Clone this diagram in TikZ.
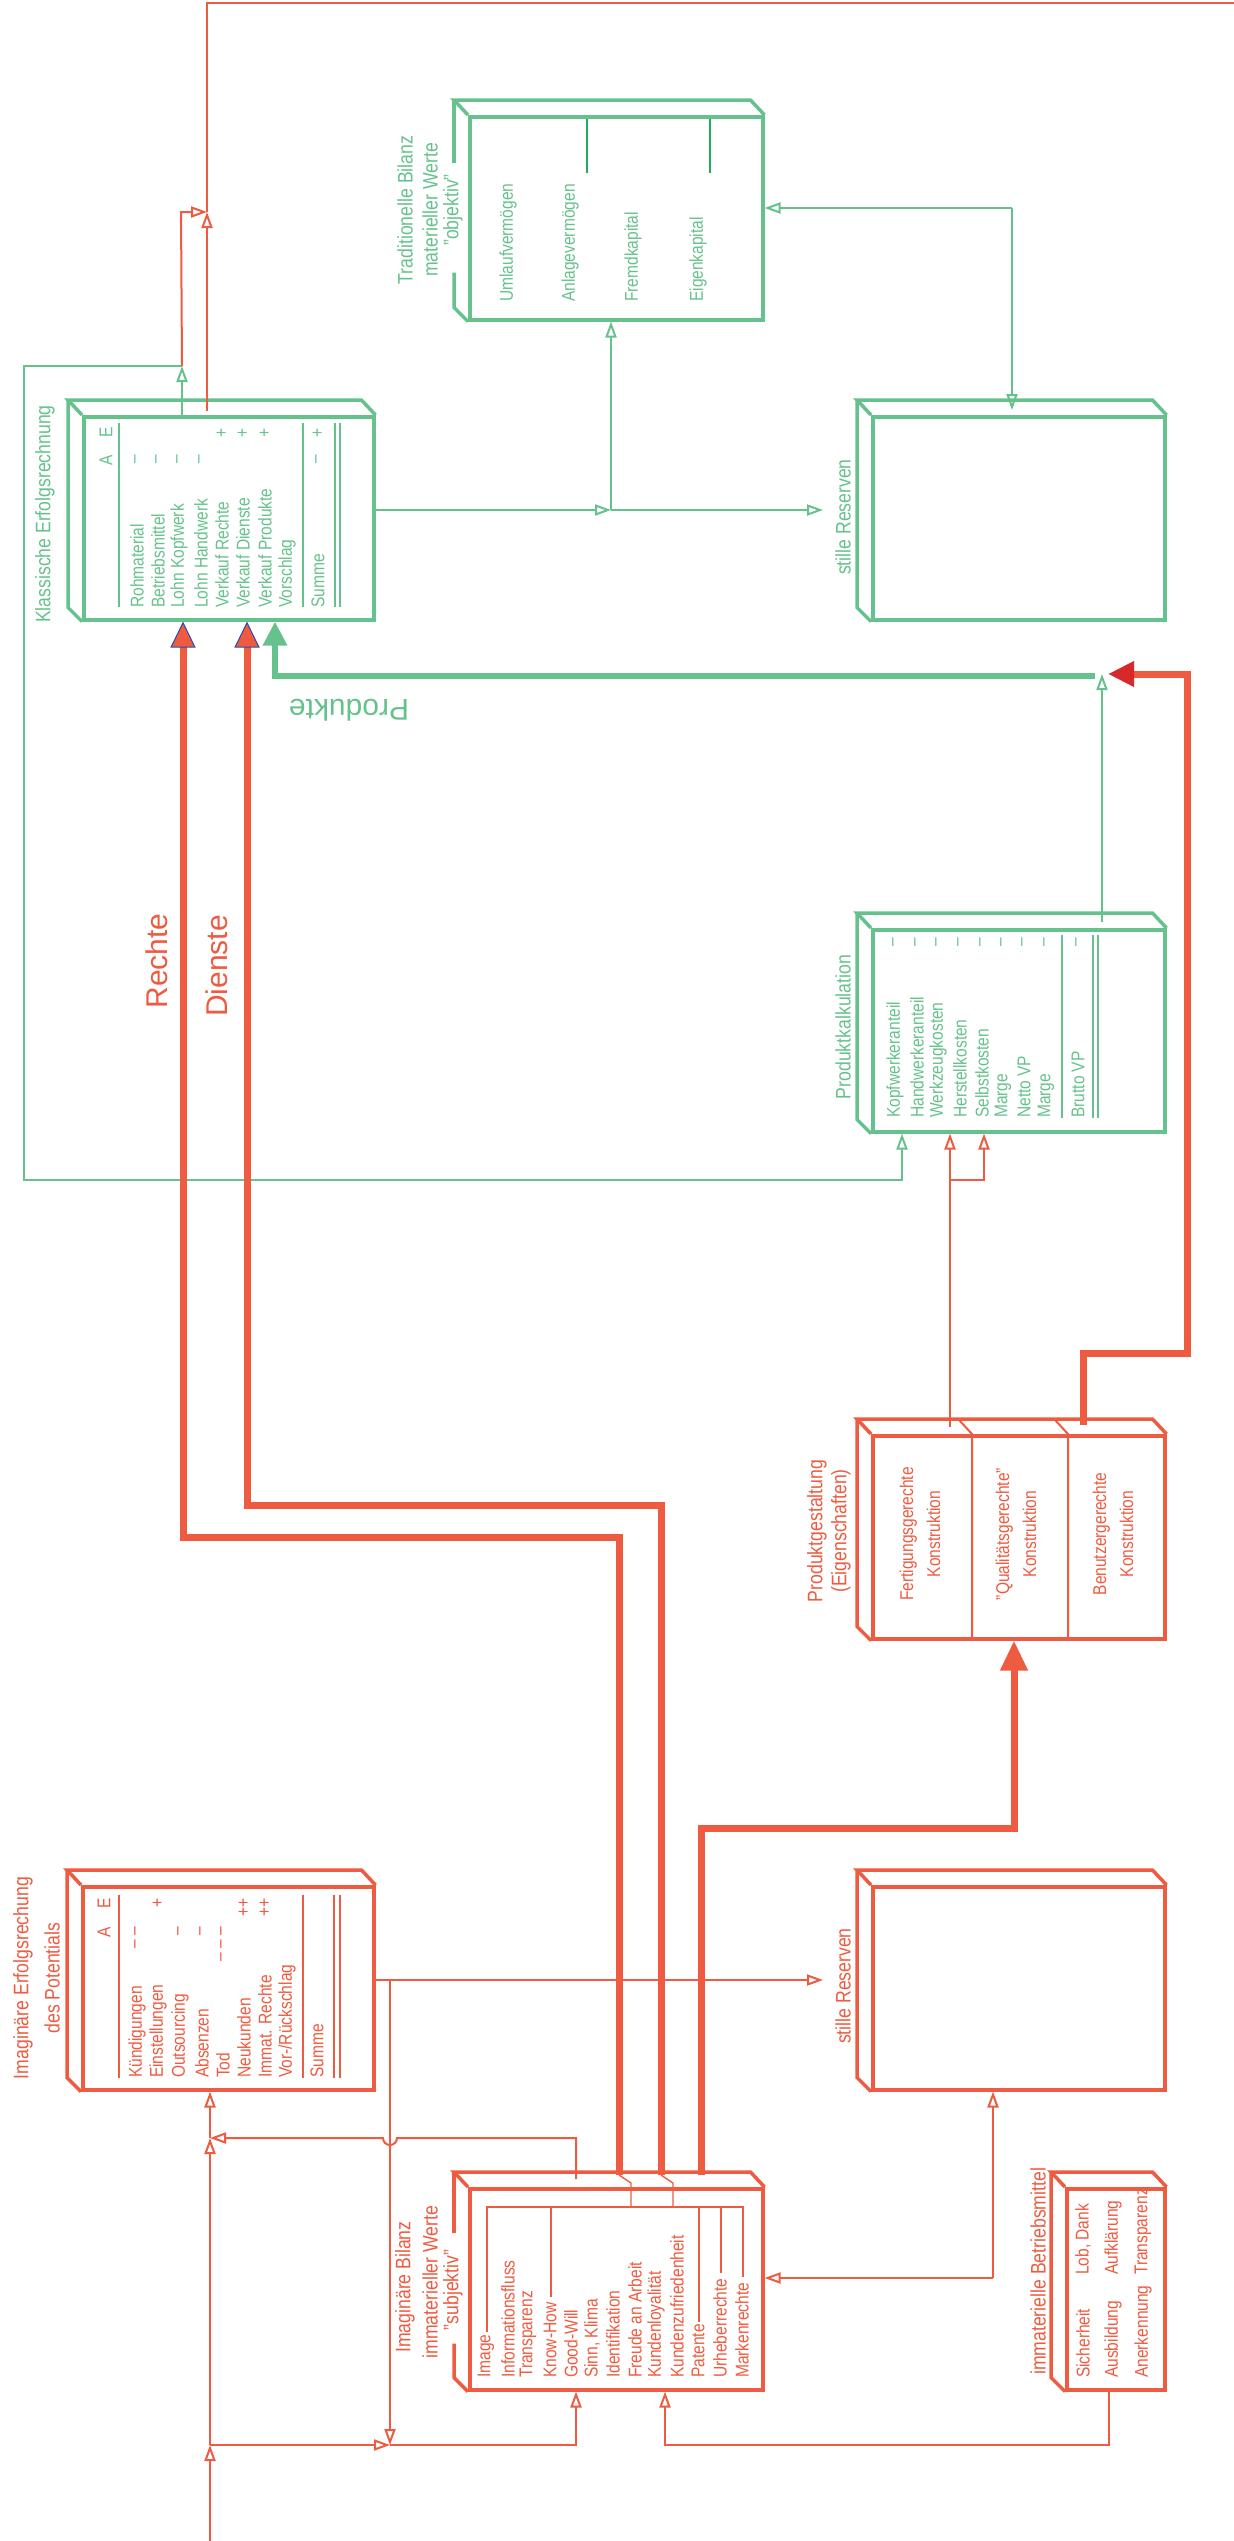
\documentclass[tikz,border=0pt]{standalone}
\usepackage{fontspec}
\setmainfont{Liberation Sans}
\newfontfamily\cf{Liberation Sans}[FakeStretch=0.84]
\newfontfamily\lf{Liberation Sans}
\usetikzlibrary{arrows.meta,calc}
\definecolor{gr}{HTML}{66C28C}
\definecolor{grd}{HTML}{1FAE5E}
\definecolor{rd}{HTML}{EF5B40}
\definecolor{rdk}{HTML}{D7282A}
\definecolor{bl}{HTML}{2B4CA6}
\newcommand\tdbox[2]{%
  \draw[#2, line width=3.5pt] (#1.north east) -- ++(-14,-15) -- ($(#1.north west)+(-14,-15)$) -- (#1.north west);
  \draw[#2, line width=3.5pt] ($(#1.north west)+(-14,-15)$) -- ($(#1.south west)+(-14,-14)$) -- (#1.south west);}
\begin{document}
\begin{tikzpicture}[x=1pt,y=-1pt,
  tdb/.style={draw, line width=3.5pt, inner sep=0pt, anchor=north west},
  txt/.style={rotate=90, inner sep=0pt, font=\cf\fontsize{18.5}{21}\selectfont},
  itm/.style={txt, anchor=west},
  mk/.style={txt, anchor=east},
  ttl/.style={rotate=90, inner sep=0pt, font=\cf\fontsize{21}{24}\selectfont},
  lbl/.style={inner sep=0pt, font=\lf\fontsize{30}{34}\selectfont},
  cn/.style={line width=2pt},
  rl/.style={line width=1.4pt},
  oa/.style={-{Triangle[open,length=16pt,width=11pt]}},
  thr/.style={rd, line width=7pt},
  thg/.style={gr, line width=6pt}]
\fill[white] (0,0) rectangle (1234,2541);
\useasboundingbox (0,0) rectangle (1234,2541);

% ---------------- Traditionelle Bilanz
\node[tdb, draw=gr, minimum width=293pt, minimum height=203pt] (trad) at (468,115) {};
\draw[gr, line width=3.5pt] (trad.north east) -- ++(-14,-15) -- ($(trad.north west)+(-14,-15)$) -- (trad.north west);
\draw[gr, line width=3.5pt] ($(trad.north west)+(-14,-15)$) -- ++(0,63);
\draw[gr, line width=3.5pt] ($(trad.south west)+(-14,-49)$) -- ++(0,35) -- (trad.south west);
\node[ttl,text=gr] (tradt1) at (405,210) {Traditionelle Bilanz};
\node[ttl,text=gr] (tradt2) at (430,210) {materieller Werte};
\node[ttl,text=gr] (tradt3) at (453,210) {”objektiv”};
\foreach \x/\t [count=\i] in {508/Umlaufvermögen,570/Anlagevermögen,633/Fremdkapital,698/Eigenkapital}
  \node[itm,text=gr] (tr\i) at (\x,302) {\t};
\draw[grd, line width=1.2pt] (587,119) -- (587,173);
\draw[grd, line width=1.2pt] (710,119) -- (710,173);

% ---------------- Klassische Erfolgsrechnung
\node[tdb, draw=gr, minimum width=290pt, minimum height=203pt] (klass) at (82,415) {};
\tdbox{klass}{gr}
\node[ttl,text=gr] (klasst) at (45,514) {Klassische Erfolgsrechnung};
\foreach \x/\t [count=\i] in {137/Rohmaterial,158/Betriebsmittel,179/Lohn Kopfwerk,201/Lohn Handwerk,222/Verkauf Rechte,243/Verkauf Dienste,265/Verkauf Produkte,287/Vorschlag,318/Summe}
  \node[itm,text=gr] (kl\i) at (\x,608) {\t};
\node[mk,text=gr] (klE) at (106,427) {E};
\node[mk,text=gr] (klA) at (106,455) {A};
\foreach \x [count=\i] in {222,243,265,318} \node[mk,text=gr] (klp\i) at (\x,428) {+};
\foreach \x [count=\i] in {137,158,179,201,318} \node[mk,text=gr] (klm\i) at (\x,455) {–};
\foreach \x in {119,303,335,340} \draw[gr,rl] (\x,423) -- (\x,607);

% ---------------- stille Reserven (oben)
\node[tdb, draw=gr, minimum width=292pt, minimum height=203pt] (srtop) at (871,415) {};
\tdbox{srtop}{gr}
\node[ttl,text=gr] (srtopt) at (843,517) {stille Reserven};

% ---------------- Produktkalkulation
\node[tdb, draw=gr, minimum width=292pt, minimum height=202pt] (prodk) at (871,928) {};
\tdbox{prodk}{gr}
\node[ttl,text=gr] (prodkt) at (843,1027) {Produktkalkulation};
\foreach \x/\t [count=\i] in {895/Kopfwerkeranteil,917/Handwerkeranteil,938/Werkzeugkosten,960/Herstellkosten,982/Selbstkosten,1003/Marge,1024/Netto VP,1046/Marge,1078/Brutto VP}
  \node[itm,text=gr] (pk\i) at (\x,1118) {\t};
\foreach \x [count=\i] in {895,917,938,960,982,1003,1024,1046,1078} \node[mk,text=gr] (pkm\i) at (\x,938) {–};
\foreach \x in {1062,1093,1098} \draw[gr,rl] (\x,935) -- (\x,1118);

% ---------------- Produktgestaltung
\node[tdb, draw=rd, minimum width=292pt, minimum height=203pt] (prodg) at (871,1434) {};
\tdbox{prodg}{rd}
\draw[rd, line width=2pt] (959,1420) -- (972,1434) -- (972,1637);
\draw[rd, line width=2pt] (1055,1420) -- (1068,1434) -- (1068,1637);
\node[ttl,text=rd] (prodgt1) at (817,1531) {Produktgestaltung};
\node[ttl,text=rd] (prodgt2) at (841,1531) {(Eigenschaften)};
\node[txt,text=rd,align=center,font=\cf\fontsize{18.5}{27}\selectfont] (pg1) at (920,1534) {Fertigungsgerechte\\Konstruktion};
\node[txt,text=rd,align=center,font=\cf\fontsize{18.5}{27}\selectfont] (pg2) at (1016,1534) {”Qualitätsgerechte”\\Konstruktion};
\node[txt,text=rd,align=center,font=\cf\fontsize{18.5}{27}\selectfont] (pg3) at (1113,1534) {Benutzergerechte\\Konstruktion};

% ---------------- Imaginäre Erfolgsrechnung
\node[tdb, draw=rd, minimum width=291pt, minimum height=203pt] (imerf) at (81,1885) {};
\tdbox{imerf}{rd}
\node[ttl,text=rd] (imerft1) at (23,1978) {Imaginäre Erfolgsrechung};
\node[ttl,text=rd] (imerft2) at (52,1978) {des Potentials};
\foreach \x/\t [count=\i] in {137/Kündigungen,158/Einstellungen,180/Outsourcing,202/Absenzen,223/Tod,244/Neukunden,265/Immat. Rechte,287/{Vor-/Rückschlag},317/Summe}
  \node[itm,text=rd] (ie\i) at (\x,2078) {\t};
\node[mk,text=rd] (ieE) at (104,1898) {E};
\node[mk,text=rd] (ieA) at (104,1927) {A};
\node[mk,text=rd] (iem1) at (137,1927) {– –};
\node[mk,text=rd] (iem2) at (158,1898) {+};
\node[mk,text=rd] (iem3) at (180,1927) {–};
\node[mk,text=rd] (iem4) at (202,1927) {–};
\node[mk,text=rd] (iem5) at (223,1927) {– – –};
\node[mk,text=rd] (iem6) at (244,1898) {++};
\node[mk,text=rd] (iem7) at (265,1898) {++};
\foreach \x in {119,303,334,340} \draw[rd,rl] (\x,1895) -- (\x,2078);

% ---------------- stille Reserven (unten)
\node[tdb, draw=rd, minimum width=292pt, minimum height=203pt] (srbot) at (871,1885) {};
\tdbox{srbot}{rd}
\node[ttl,text=rd] (srbott) at (843,1986) {stille Reserven};

% ---------------- Imaginäre Bilanz
\node[tdb, draw=rd, minimum width=293pt, minimum height=201pt] (imbil) at (468,2187) {};
\draw[rd, line width=3.5pt] (imbil.north east) -- ++(-14,-15) -- ($(imbil.north west)+(-14,-15)$) -- (imbil.north west);
\draw[rd, line width=3.5pt] ($(imbil.north west)+(-14,-15)$) -- ++(0,61);
\draw[rd, line width=3.5pt] ($(imbil.south west)+(-14,-48)$) -- ++(0,34) -- (imbil.south west);
\node[ttl,text=rd] (imbilt1) at (405,2287) {Imaginäre Bilanz};
\node[ttl,text=rd] (imbilt2) at (430,2282) {immaterieller Werte};
\node[ttl,text=rd] (imbilt3) at (453,2290) {”subjektiv”};
\foreach \x/\t [count=\i] in {486/Image,508/Informationsfluss,528/Transparenz,550/Know-How,571/Good-Will,592/{Sinn, Klima},613/Identifikation,635/Freude an Arbeit,656/Kundenloyalität,677/Kundenzufriedenheit,698/Patente,720/Urheberrechte,742/Markenrechte}
  \node[itm,text=rd] (ib\i) at (\x,2378) {\t};
\draw[rd,rl] (487,2332) -- (487,2207) -- (743,2207) -- (743,2277);
\draw[rd,rl] (551,2207) -- (551,2297);
\draw[rd,rl] (699,2207) -- (699,2322);
\draw[rd,rl] (721,2207) -- (721,2273);
\draw[rd,rl] (619,2175) -- (631,2183) -- (631,2207);
\draw[rd,rl] (661,2175) -- (673,2183) -- (673,2207);

% ---------------- immaterielle Betriebsmittel
\node[tdb, draw=rd, minimum width=98pt, minimum height=201pt] (imbm) at (1065,2187) {};
\tdbox{imbm}{rd}
\node[ttl,text=rd,anchor=west] (imbmt) at (1038,2375) {immaterielle Betriebsmittel};
\foreach \x/\t [count=\i] in {1083/Sicherheit,1113/Ausbildung,1143/Anerkennung}
  \node[itm,text=rd] (bm\i) at (\x,2378) {\t};
\foreach \x/\t [count=\i] in {1083/{Lob, Dank},1113/Aufklärung,1143/Transparenz}
  \node[itm,text=rd] (bn\i) at (\x,2275) {\t};

% ---------------- Labels
\node[lbl,text=rd,rotate=90] (lrechte) at (157,961) {Rechte};
\node[lbl,text=rd,rotate=90] (ldienste) at (217,966) {Dienste};
\node[lbl,text=gr,rotate=180] (lprodukte) at (349,710) {Produkte};

% ---------------- green connectors
\coordinate (gj1) at (611,510);
\draw[gr,cn,oa] (372,0 |- gj1) -- (gj1);
\draw[gr,cn,oa] (gj1) -- (823,510);
\draw[gr,cn,oa] (gj1) -- (611,0 |- trad.south);
\coordinate (gj2) at (1012,208);
\draw[gr,cn,oa] (gj2) -- (trad.east |- gj2);
\draw[gr,cn,oa] (gj2) -- (1012,410);
\coordinate (gj3) at (182,366);
\draw[gr,cn,oa] (182,0 |- klass.north) -- (gj3);
\draw[gr,cn,oa] (gj3) -- (24,366) -- (24,1180) -- (902,1180) -- (902,0 |- prodk.south);
\coordinate (pj) at (1102,674);
\draw[gr,cn,oa] (1102,922) -- (pj);
\draw[thg,-{Triangle[length=24pt,width=23pt]}] (1095,676) -- (275,676) -- (275,0 |- klass.south);

% ---------------- red thin connectors
\coordinate (rj1) at (207,212);
\draw[rd,cn,oa] (207,411) -- (rj1);
\draw[rd,cn] (rj1) -- (207,3) -- (1234,3);
\draw[rd,cn,oa] (gj3) -- (181,212) -- (rj1);
\coordinate (rj2) at (950,1180);
\draw[rd,cn,oa] (950,1427) -- (950,0 |- prodk.south);
\draw[rd,cn,oa] (rj2) -- (984,1180) -- (984,0 |- prodk.south);
\coordinate (rj3) at (390,1980);
\draw[rd,cn,oa] (imerf.east |- rj3) -- (823,1980);
\coordinate (rj4) at (390,2445);
\draw[rd,cn,oa] (rj3) -- (rj4);
\coordinate (rj5) at (210,2138);
\draw[rd,cn,oa] (576,2179) -- (576,2138) -- (397,2138) arc[start angle=0,end angle=180,radius=7] -- (rj5);
\coordinate (rj6) at (210,2445);
\draw[rd,cn,oa] (210,2541) -- (rj6);
\draw[rd,cn,oa] (rj6) -- (rj5);
\draw[rd,cn,oa] (rj5) -- (210,0 |- imerf.south);
\draw[rd,cn,oa] (rj6) -- (rj4);
\draw[rd,cn,oa] (rj4) -- (576,2445) -- (576,0 |- imbil.south);
\draw[rd,cn,oa] (1109,0 |- imbm.south) -- (1109,2445) -- (665,2445) -- (665,0 |- imbil.south);
\coordinate (rj7) at (993,2278);
\draw[rd,cn,oa] (rj7) -- (993,0 |- srbot.south);
\draw[rd,cn,oa] (rj7) -- (imbil.east |- rj7);

% ---------------- red thick connectors
\draw[thr,-{Triangle[length=26pt,width=25pt,fill=rd,color=bl,line width=1pt]}] (619,2175) -- (619,1537) -- (183,1537) -- (183,0 |- klass.south);
\draw[thr,-{Triangle[length=26pt,width=25pt,fill=rd,color=bl,line width=1pt]}] (661,2175) -- (661,1505) -- (247,1505) -- (247,0 |- klass.south);
\draw[thr,-{Triangle[length=30pt,width=26pt]}] (701,2175) -- (701,1828) -- (1014,1828) -- (1014,0 |- prodg.south);
\draw[thr,-{Triangle[length=26pt,width=24pt,fill=rdk,color=rdk]}] (1083,1425) -- (1083,1353) -- (1187,1353) -- (1187,674) -- (1108,674);
\end{tikzpicture}
\end{document}
